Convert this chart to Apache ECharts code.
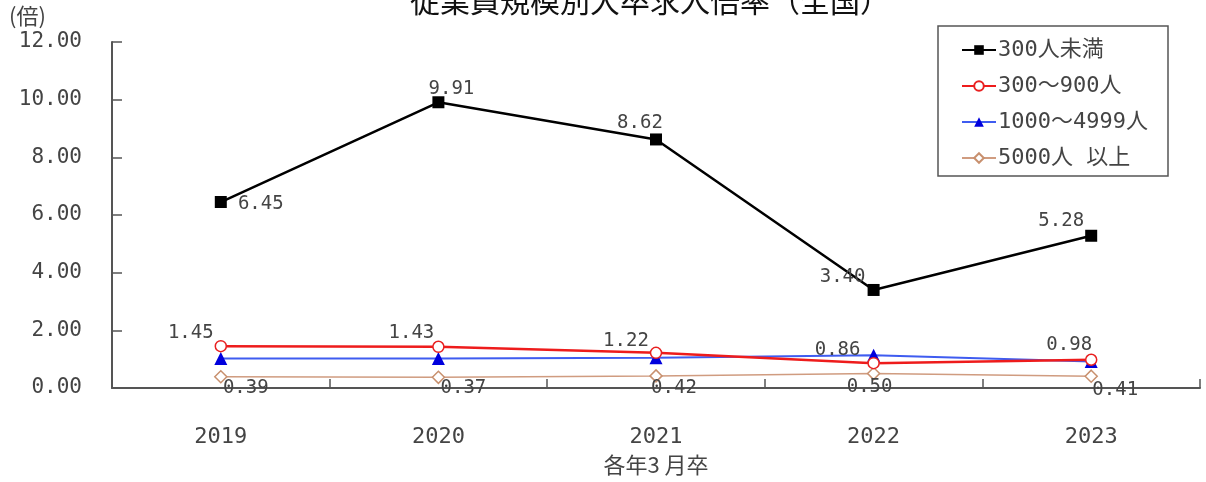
<!DOCTYPE html>
<html>
<head>
<meta charset="utf-8">
<style>
  html, body { margin: 0; padding: 0; background: #fff; }
  #chart { width: 1206px; height: 482px; }
</style>
<script src="https://cdn.jsdelivr.net/npm/echarts@6/dist/echarts.min.js"></script>
</head>
<body>
<div id="chart"></div>
<script>
// 卒業年（各年3月卒）
const years = ['2019', '2020', '2021', '2022', '2023'];

// 従業員規模別の求人倍率（倍）
const under300 = [6.45, 9.91, 8.62, 3.40, 5.28];
const from300to900 = [1.45, 1.43, 1.22, 0.86, 0.98];
const from1000to4999 = [1.02, 1.02, 1.05, 1.14, 0.92];
const over5000 = [0.39, 0.37, 0.42, 0.50, 0.41];

const seriesNames = ['300人未満', '300〜900人', '1000〜4999人', '5000人 以上'];
const yTicks = [0, 2, 4, 6, 8, 10, 12];

// ラベルの表示位置（点の中心からのずれ, px）
const labelShift = {
  under300: [[40, 2], [13, -13], [-16, -16], [-31, -13], [-30, -15]],
  from300to900: [[-30, -13], [-27, -14], [-30, -12], [-36, -13], [-22, -15]],
  over5000: [[25, 11], [25, 11], [18, 12], [-4, 13], [24, 14]]
};

const NUM_FONT = '"DejaVu Sans Mono", "Noto Sans CJK JP", sans-serif';
const JP_FONT = '"Noto Sans CJK JP", "Noto Sans", sans-serif';
const TXT = '#444';

function withLabels(values, shifts) {
  return values.map((v, i) => ({
    value: v,
    label: {
      show: true,
      position: 'inside',
      offset: shifts[i],
      formatter: (p) => p.value.toFixed(2),
      color: TXT,
      fontSize: 19,
      fontFamily: NUM_FONT
    }
  }));
}

const chart = echarts.init(document.getElementById('chart'), null, { renderer: 'canvas' });

chart.setOption({
  animation: false,
  backgroundColor: '#fff',
  title: {
    text: '従業員規模別大卒求人倍率（全国）',
    left: 645,
    textAlign: 'center',
    top: -19,
    textStyle: { fontSize: 30, fontWeight: 'normal', color: '#111', fontFamily: JP_FONT }
  },
  grid: {
    left: 112, right: 6, top: 42, bottom: 94,
    containLabel: false,
    outerBoundsMode: 'none'
  },
  legend: {
    show: true,
    orient: 'vertical',
    left: 956,
    top: 34,
    itemWidth: 34,
    itemHeight: 12,
    itemGap: 14,
    textStyle: { fontSize: 22, color: TXT, fontFamily: NUM_FONT, padding: [0, 0, 0, -3] },
    data: seriesNames
  },
  graphic: [
    {
      type: 'rect',
      shape: { x: 938, y: 26, width: 230, height: 150 },
      style: { fill: 'none', stroke: '#555', lineWidth: 1.5 },
      z: 0
    },
    {
      type: 'text',
      left: 9,
      top: 5,
      style: { text: '(倍)', fill: TXT, font: '22px ' + JP_FONT }
    }
  ],
  xAxis: {
    type: 'category',
    data: years,
    boundaryGap: true,
    name: '各年3 月卒',
    nameLocation: 'middle',
    nameGap: 66,
    nameTextStyle: { fontSize: 22, color: TXT, fontFamily: JP_FONT },
    axisLine: { lineStyle: { color: '#555', width: 2 } },
    axisTick: { show: true, inside: true, length: 9, lineStyle: { color: '#555', width: 1.5 } },
    axisLabel: { fontSize: 22, color: TXT, fontFamily: NUM_FONT, margin: 38 },
    splitLine: { show: false }
  },
  yAxis: {
    type: 'value',
    min: yTicks[0],
    max: yTicks[yTicks.length - 1],
    interval: 2,
    axisLine: { show: true, lineStyle: { color: '#555', width: 2 } },
    axisTick: { show: true, inside: true, length: 10, lineStyle: { color: '#555', width: 1.5 } },
    axisLabel: {
      fontSize: 21, color: TXT, fontFamily: NUM_FONT, margin: 30,
      formatter: (v) => v.toFixed(2)
    },
    splitLine: { show: false }
  },
  series: [
    {
      name: seriesNames[3],
      type: 'line',
      data: withLabels(over5000, labelShift.over5000),
      symbol: 'diamond',
      symbolSize: 12,
      itemStyle: { color: '#fff', borderColor: '#c8906e', borderWidth: 1.5 },
      lineStyle: { color: '#d09c80', width: 1.5 },
      z: 2
    },
    {
      name: seriesNames[2],
      type: 'line',
      data: from1000to4999,
      symbol: 'triangle',
      symbolSize: 13,
      itemStyle: { color: '#0000dd' },
      lineStyle: { color: '#3f5cf0', width: 2 },
      z: 3
    },
    {
      name: seriesNames[1],
      type: 'line',
      data: withLabels(from300to900, labelShift.from300to900),
      symbol: 'circle',
      symbolSize: 11,
      itemStyle: { color: '#fff', borderColor: '#e82020', borderWidth: 1.5 },
      lineStyle: { color: '#ee1c1c', width: 2.5 },
      z: 4
    },
    {
      name: seriesNames[0],
      type: 'line',
      data: withLabels(under300, labelShift.under300),
      symbol: 'rect',
      symbolSize: 12,
      itemStyle: { color: '#000' },
      lineStyle: { color: '#000', width: 2.5 },
      z: 5
    }
  ]
});
</script>
</body>
</html>
